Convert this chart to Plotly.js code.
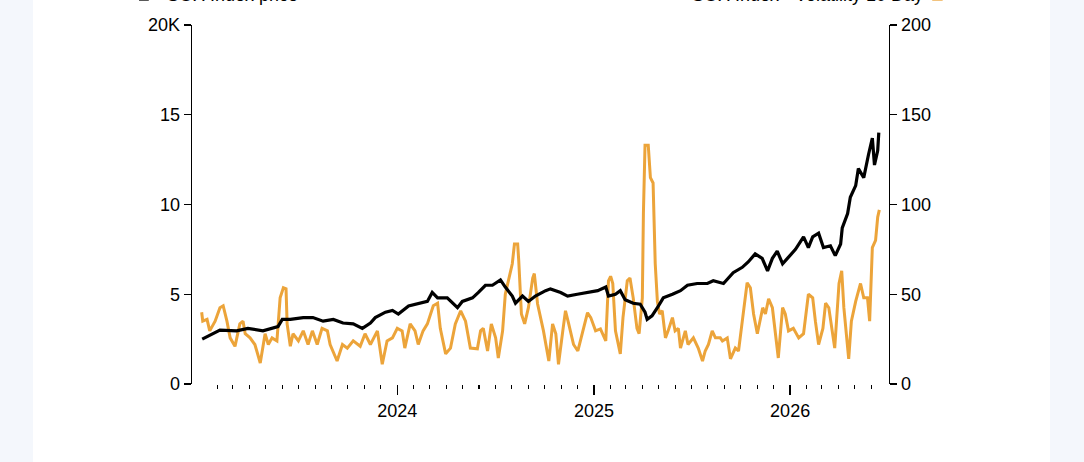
<!DOCTYPE html>
<html>
<head>
<meta charset="utf-8">
<script src="https://cdn.plot.ly/plotly-3.0.1.min.js"></script>
<style>
  html, body { margin: 0; padding: 0; width: 1084px; height: 462px; overflow: hidden; background: #f4f7fc; }
  #chart { position: absolute; left: 33px; top: 0; width: 1017px; height: 462px; background: #ffffff; }
</style>
</head>
<body>
<div id="chart"></div>
<script>
// ---- Data ----
const priceName = "SOX Index price";
const volName = "SOX Index - Volatility 10 Day";

const priceDates = [
  '2023-01-03','2023-02-05','2023-03-08','2023-03-29','2023-04-26','2023-05-15','2023-05-24','2023-06-01','2023-06-16','2023-07-10',
  '2023-07-28','2023-08-16','2023-09-04','2023-09-22','2023-10-11','2023-10-28','2023-11-12','2023-11-21','2023-12-10','2023-12-23',
  '2024-01-03','2024-01-22','2024-02-09','2024-02-26','2024-03-06','2024-03-16','2024-04-03','2024-04-14','2024-04-22','2024-05-01',
  '2024-05-20','2024-05-31','2024-06-13','2024-06-26','2024-07-11','2024-07-20','2024-08-02','2024-08-08','2024-08-21','2024-09-01',
  '2024-09-14','2024-10-03','2024-10-12','2024-10-31','2024-11-13','2024-12-01','2024-12-20',
  '2025-01-08','2025-01-23','2025-01-28','2025-02-10','2025-02-19','2025-02-28','2025-03-15','2025-03-28','2025-04-06','2025-04-10',
  '2025-04-19','2025-04-29','2025-05-10','2025-05-27','2025-06-11','2025-06-24','2025-07-12','2025-07-31','2025-08-11','2025-08-30',
  '2025-09-17','2025-10-04','2025-10-15','2025-10-28','2025-11-10','2025-11-20','2025-11-29','2025-12-08','2025-12-18','2025-12-27',
  '2026-01-11','2026-01-26','2026-02-04','2026-02-12','2026-02-23','2026-03-04','2026-03-17','2026-03-26','2026-04-05','2026-04-08',
  '2026-04-18','2026-04-23','2026-05-03','2026-05-08','2026-05-18','2026-05-27','2026-06-03','2026-06-07','2026-06-13','2026-06-15'
];
const priceValues = [
  2500,3000,2960,3100,2960,3100,3200,3600,3600,3700,
  3700,3500,3600,3400,3350,3100,3400,3700,4000,4100,
  3900,4350,4500,4600,5100,4800,4800,4500,4250,4600,
  4800,5100,5500,5500,5800,5400,4900,4500,4900,4600,
  4900,5200,5300,5100,4900,5000,5100,
  5200,5400,4900,5000,5200,4700,4500,4450,4000,3600,
  3800,4250,4800,5000,5200,5500,5600,5600,5750,5600,
  6200,6500,6800,7250,7000,6300,7000,7400,6700,7000,
  7500,8200,7600,8200,8400,7600,7700,7150,7800,8700,
  9500,10400,11050,12000,11500,12800,13700,12200,13000,14000
];

const volDates = [
  '2023-01-02','2023-01-04','2023-01-12','2023-01-17','2023-01-27','2023-02-05','2023-02-11','2023-02-18','2023-02-24','2023-03-05',
  '2023-03-14','2023-03-20','2023-03-24','2023-04-02','2023-04-11','2023-04-21','2023-04-30','2023-05-06','2023-05-13','2023-05-22',
  '2023-05-28','2023-06-03','2023-06-08','2023-06-10','2023-06-16','2023-06-21','2023-07-01','2023-07-10','2023-07-19','2023-07-27',
  '2023-08-05','2023-08-14','2023-08-24','2023-08-29','2023-09-11','2023-09-21','2023-09-30','2023-10-11','2023-10-24','2023-11-02',
  '2023-11-12','2023-11-25','2023-12-04','2023-12-13','2023-12-23',
  '2024-01-01','2024-01-10','2024-01-15','2024-01-25','2024-02-03','2024-02-09','2024-02-18','2024-02-26','2024-03-08','2024-03-16',
  '2024-03-21','2024-03-31','2024-04-09','2024-04-18','2024-04-28','2024-05-07','2024-05-16','2024-05-29','2024-06-04','2024-06-09',
  '2024-06-17','2024-06-24','2024-07-02','2024-07-07','2024-07-15','2024-07-20','2024-07-26','2024-08-02','2024-08-06','2024-08-12',
  '2024-08-14','2024-08-19','2024-08-25','2024-09-01','2024-09-09','2024-09-12','2024-09-18','2024-09-24','2024-09-29','2024-10-09',
  '2024-10-16','2024-10-22','2024-10-27','2024-11-04','2024-11-09','2024-11-15','2024-11-24','2024-12-02','2024-12-11','2024-12-20',
  '2024-12-26',
  '2025-01-04','2025-01-13','2025-01-23','2025-01-28','2025-02-01','2025-02-05','2025-02-10','2025-02-19','2025-02-24','2025-03-04',
  '2025-03-09','2025-03-15','2025-03-22','2025-03-26','2025-04-01','2025-04-03','2025-04-06','2025-04-12','2025-04-16','2025-04-21',
  '2025-04-25','2025-04-29','2025-05-03','2025-05-08','2025-05-14','2025-05-19','2025-05-27','2025-06-01','2025-06-07','2025-06-11',
  '2025-06-20','2025-06-25','2025-07-05','2025-07-14','2025-07-22','2025-07-27','2025-08-02','2025-08-09','2025-08-15','2025-08-24',
  '2025-08-28','2025-09-06','2025-09-12','2025-09-21','2025-09-27','2025-10-04','2025-10-13','2025-10-19','2025-10-25','2025-11-01',
  '2025-11-11','2025-11-16','2025-11-22','2025-11-29','2025-12-05','2025-12-10','2025-12-18','2025-12-23','2025-12-29',
  '2026-01-07','2026-01-17','2026-01-26','2026-02-04','2026-02-12','2026-02-17','2026-02-23','2026-03-03','2026-03-08','2026-03-14',
  '2026-03-21','2026-03-25','2026-04-02','2026-04-07','2026-04-11','2026-04-16','2026-04-20','2026-04-25','2026-05-03','2026-05-12',
  '2026-05-18','2026-05-25','2026-05-29','2026-06-03','2026-06-09','2026-06-13','2026-06-16'
];
const volValues = [
  40,35,36,29.6,35,42.5,43.6,35,25.7,21,
  33.5,35,28,25.7,22,11.7,28,22,25.7,24,
  48,53.6,53,33.5,21,28,24,29.6,22,29.6,
  22,31,29.6,22,12.8,22,20,24,21,28,
  22,29.6,11,24,25.7,
  31,29.6,20,33.5,29.6,22,29.6,33.5,43.6,45,
  31,16.8,20,33.5,40.8,35,20,19.6,29.6,31,
  18.4,33.5,25.7,14.5,29.6,50,57.5,67,78,78,
  68.7,39,33.5,42.5,59,61.5,44.7,37,29.6,12.8,
  33.5,28,11,29.6,40.8,33.5,22,18.4,29.6,39.7,
  37,
  29.6,30.7,24,57.5,60,56,29.6,16.8,37,57.5,
  59,48,31,28,48,95,133,133,115,112,
  67,46,39,40.8,25.7,29.6,37,29.6,31,20,
  29.6,22,25.7,20,12.8,18.4,22,29.6,25.7,25.7,
  24,25.7,14,20,18.4,35,56.4,53.6,39,28,
  42.5,39,47.5,42.5,28,14.5,42.5,39,29.6,
  31,25.7,28,50,48,35,22,31,45,42.5,
  28,20,56,63,42.5,28,14,35,46,56,
  48,48,35,76,80,93,97
];

const priceTickVals = [0, 5000, 10000, 15000, 20000];
const priceTickText = ['0', '5', '10', '15', '20K'];
const volTickVals = [0, 50, 100, 150, 200];
const volTickText = ['0', '50', '100', '150', '200'];
const yearTickVals = ['2024-01-01', '2025-01-01', '2026-01-01'];
const yearTickText = ['2024', '2025', '2026'];

// monthly minor ticks Feb 2023 .. Jun 2026 (axis positions only)
const monthTicks = [];
for (let y = 2023; y <= 2026; y++) {
  for (let m = 2; m <= 12; m++) {
    if (y === 2026 && m > 6) break;
    monthTicks.push(y + '-' + String(m).padStart(2, '0') + '-01');
  }
}

const FONT = 'Liberation Sans, Arial, Helvetica, sans-serif';
const ORANGE = '#ECA43A';

const traces = [
  { x: volDates, y: volValues, type: 'scatter', mode: 'lines', name: volName,
    line: { color: ORANGE, width: 3 }, yaxis: 'y', xaxis: 'x' },
  { x: priceDates, y: priceValues, type: 'scatter', mode: 'lines', name: priceName,
    line: { color: '#000000', width: 3.2 }, yaxis: 'y2', xaxis: 'x' }
];

const layout = {
  width: 1017, height: 462,
  margin: { l: 159, r: 161, t: 25, b: 78, pad: 0 },
  paper_bgcolor: '#ffffff', plot_bgcolor: '#ffffff',
  showlegend: false,
  font: { family: FONT, size: 18, color: '#000' },
  xaxis: {
    type: 'date', range: ['2022-12-15', '2026-07-04'],
    showgrid: false, zeroline: false, showline: false,
    tickmode: 'array', tickvals: yearTickVals, ticktext: yearTickText,
    ticks: 'outside', ticklen: 10, tickwidth: 1.3, tickcolor: '#000',
    tickfont: { family: FONT, size: 18, color: '#000' },
    minor: { tickmode: 'array', tickvals: monthTicks, ticks: 'outside', ticklen: 4, tickwidth: 1.1, tickcolor: '#000', showgrid: false }
  },
  yaxis: {
    side: 'right', range: [0, 200],
    tickmode: 'array', tickvals: volTickVals, ticktext: volTickText,
    showgrid: false, zeroline: false, showline: true, linecolor: '#000', linewidth: 1.4,
    ticks: 'outside', ticklen: 7, tickwidth: 1.3, tickcolor: '#000',
    tickfont: { family: FONT, size: 18, color: '#000' }
  },
  yaxis2: {
    overlaying: 'y', side: 'left', range: [0, 20000],
    tickmode: 'array', tickvals: priceTickVals, ticktext: priceTickText,
    showgrid: false, zeroline: false, showline: true, linecolor: '#000', linewidth: 1.4,
    ticks: 'outside', ticklen: 7, tickwidth: 1.3, tickcolor: '#000',
    tickfont: { family: FONT, size: 18, color: '#000' }
  },
  annotations: [
    { xref: 'paper', yref: 'paper', x: -0.0387, y: 1.083, xanchor: 'left', yanchor: 'middle',
      text: priceName, showarrow: false, font: { family: FONT, size: 18, color: '#000' } },
    { xref: 'paper', yref: 'paper', x: 1.0516, y: 1.083, xanchor: 'right', yanchor: 'middle',
      text: volName, showarrow: false, font: { family: FONT, size: 18, color: '#000' } }
  ],
  shapes: [
    { type: 'line', xref: 'paper', yref: 'paper', x0: -0.0760, x1: -0.0620, y0: 1.072, y1: 1.072,
      line: { color: '#000', width: 3 } },
    { type: 'line', xref: 'paper', yref: 'paper', x0: 1.0620, x1: 1.0770, y0: 1.072, y1: 1.072,
      line: { color: ORANGE, width: 3 } }
  ]
};

Plotly.newPlot('chart', traces, layout, { staticPlot: true, displayModeBar: false });
</script>
</body>
</html>
